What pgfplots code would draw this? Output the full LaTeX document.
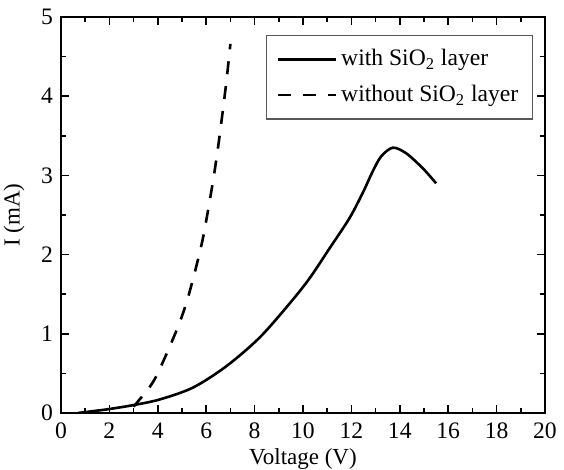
\documentclass[border=0pt]{standalone}
\usepackage{pgfplots}
\pgfplotsset{compat=1.18}
\usepackage{fontspec}
\setmainfont{Liberation Serif}
\begin{document}
\fontsize{11.5}{13}\selectfont
\begin{tikzpicture}
\begin{axis}[
  scale only axis, width=242pt, height=198pt,
  at={(0,0)}, anchor=south west,
  xmin=0, xmax=20, ymin=0, ymax=5,
  xtick={0,2,...,20}, ytick={0,1,...,5},
  minor x tick num=1, minor y tick num=1,
  tick align=inside, major tick length=4pt, minor tick length=2.5pt,
  tick style={black, line width=0.8pt},
  axis line style={line width=0.9pt},
  /pgf/number format/assume math mode=true,
  ticklabel style={font=\fontsize{11.8}{13}\selectfont},
  xticklabel style={yshift=-1pt},
  xlabel={Voltage (V)}, ylabel={I (mA)},
  xlabel style={at={(axis description cs:0.5,0)}, anchor=south, inner sep=0pt, yshift=-28.3pt},
  ylabel style={at={(axis description cs:-0.097,0.5)}, anchor=center},
  legend style={at={(rel axis cs:0.975,0.955)}, anchor=north east, draw=gray!70!black, line width=0.6pt,
    font=\fontsize{11.8}{13}\selectfont, inner xsep=5pt, inner ysep=5pt, row sep=4pt},
  legend cell align=left,
  legend image code/.code={\draw[#1] (0pt,0pt) -- (29pt,0pt);},
]
\addplot[black, line width=1.3pt, smooth] coordinates {
(0.7,0) (1.5,0.03) (2.0,0.05) (3,0.1) (4.07,0.17) (5.45,0.32) (6.83,0.59) (8.2,0.95) (9.44,1.38) (10.27,1.70) (11.1,2.08) (11.92,2.46) (12.47,2.78) (12.88,3.05) (13.23,3.24) (13.71,3.35) (14.26,3.28) (14.95,3.09) (15.5,2.90)
};
\addlegendentry{with SiO\textsubscript{2} layer}
\addplot[black, line width=1.3pt, smooth, dash pattern=on 6.5pt off 6pt] coordinates {
(3.0,0.08) (3.3,0.19) (3.6,0.3) (3.93,0.46) (4.41,0.78) (4.9,1.14) (5.24,1.45) (5.59,1.85) (5.86,2.2) (6.1,2.6) (6.32,3.0) (6.51,3.4) (6.68,3.8) (6.84,4.2) (7.0,4.66)
};
\addlegendentry{without SiO\textsubscript{2} layer}
\end{axis}
\pgfresetboundingbox
\path (-30.5pt,-28.5pt) rectangle (251.5pt,206.5pt);
\end{tikzpicture}
\end{document}
